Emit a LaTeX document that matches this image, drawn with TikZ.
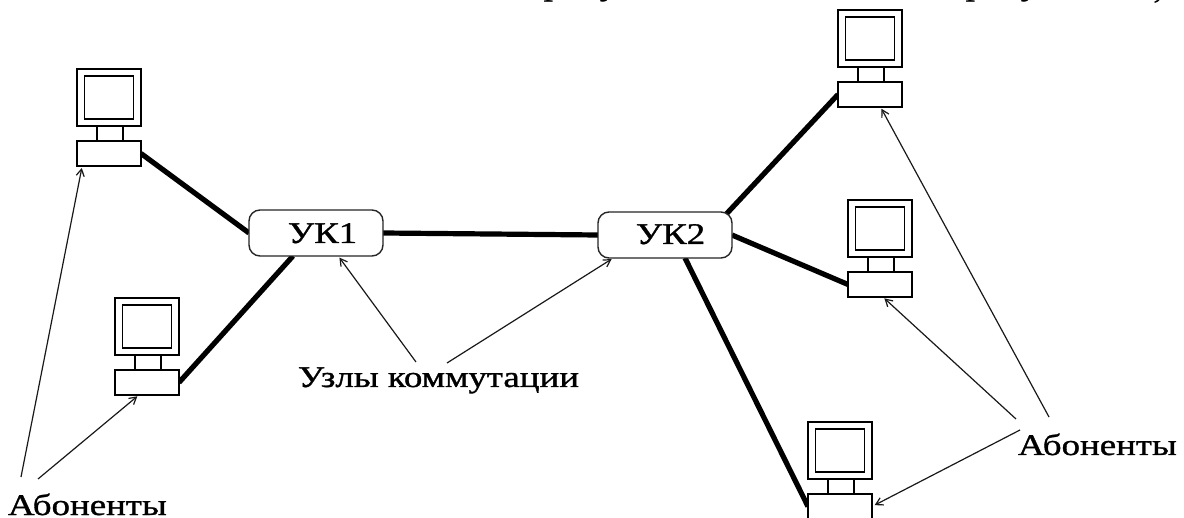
\documentclass[tikz,border=0pt]{standalone}
\usepackage{fontspec}
\setmainfont[FakeBold=1]{Liberation Serif}
\usetikzlibrary{arrows.meta,calc,backgrounds}
\tikzset{
  box/.style={draw=black,line width=1.6pt,fill=white,anchor=north west,inner sep=0pt,outer sep=0pt},
  switchnode/.style={draw=black!85,line width=1.4pt,fill=white,rounded corners=11pt,minimum width=134pt,minimum height=46pt,inner sep=0pt,outer sep=0pt},
  trunk/.style={line width=5.2pt,black},
  pointer/.style={line width=1.2pt,black!90,-{Straight Barb[length=7pt,width=8pt,line width=1.2pt]},shorten >=2pt},
  lbl/.style={inner sep=0pt,outer sep=0pt,anchor=base west,font=\fontsize{30}{30}\selectfont},
  cut/.style={inner sep=0pt,outer sep=0pt,anchor=base,font=\fontsize{30}{30}\selectfont}
}
\newcommand{\wide}[1]{\scalebox{1.23}[1]{#1}}
\newcommand{\computer}[3]{%
  \node[box,minimum width=64pt,minimum height=57pt] (#1mon) at (#2,#3) {};
  \node[box,minimum width=49pt,minimum height=43pt] (#1scr) at ($(#1mon.north west)+(7.5,7)$) {};
  \node[box,minimum width=26pt,minimum height=15pt] (#1neck) at ($(#1mon.north west)+(20,57)$) {};
  \node[box,minimum width=64pt,minimum height=25pt] (#1base) at ($(#1mon.north west)+(0,72)$) {};
}
\begin{document}
\begin{tikzpicture}[x=1pt,y=-1pt]
\useasboundingbox (0,0) rectangle (1184,518);
% top line of text, cut by the edge
\node[cut] (t1) at (553,-5) {\wide{р}};
\node[cut] (t2) at (609,-5) {\wide{у}};
\node[cut] (t3) at (975,-5) {\wide{р}};
\node[cut] (t4) at (1030,-5) {\wide{у}};
\node[cut] (t5) at (1158,-2) {\wide{,}};
% computers
\computer{a}{77}{69}
\computer{b}{115}{298}
\computer{c}{838}{10}
\computer{d}{848}{200}
\computer{e}{808}{422}
% switching nodes
\node[switchnode] (uk1) at (316,233) {};
\node[switchnode] (uk2) at (665,235) {};
\node[lbl] (uk1t) at (288,243) {\wide{УК1}};
\node[lbl] (uk2t) at (636,244) {\wide{УК2}};
% trunks, behind the nodes
\begin{scope}[on background layer]
\fill[white] (0,0) rectangle (1184,518);
\draw[trunk] (abase.east) -- (uk1.west);
\draw[trunk] (bbase.east) -- (uk1.225);
\draw[trunk] (uk1.east) -- (uk2.west);
\draw[trunk,shorten <=-6pt] (uk2.20) -- (cbase.west);
\draw[trunk] (uk2.east) -- (dbase.west);
\draw[trunk] (uk2.311) -- (ebase.west);
\end{scope}
% labels
\node[lbl] (nodes) at (298,387) {\wide{Узлы коммутации}};
\node[lbl] (subL) at (8,515) {\wide{Абоненты}};
\node[lbl] (subR) at (1018,455) {\wide{Абоненты}};
% free ends of the pointers
\coordinate (pa) at (21,477);
\coordinate (pb) at (38,479);
\coordinate (pn1) at (416,362);
\coordinate (pn2) at (447,363);
\coordinate (pc) at (1049,417);
\coordinate (pd) at (1016,419);
\coordinate (pe) at (1020,430);
% pointers
\draw[pointer] (pa) -- (abase.205);
\draw[pointer] (pb) -- (bbase.237);
\draw[pointer] (pn1) -- (uk1.314);
\draw[pointer] (pn2) -- (uk2.204);
\draw[pointer] (pc) -- (cbase.310);
\draw[pointer] (pd) -- (dbase.283);
\draw[pointer,shorten >=3pt] (pe) -- (ebase.east);
\end{tikzpicture}
\end{document}
